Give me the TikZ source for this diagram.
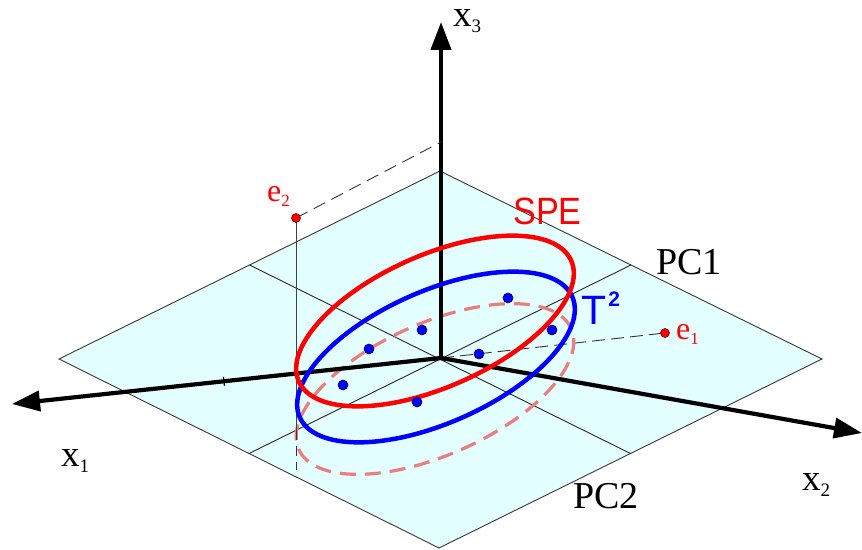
\documentclass[tikz,border=0pt]{standalone}
\usepackage{fontspec}
\usepackage{graphicx}
\setmainfont{Liberation Serif}
\newfontfamily\sansf{Liberation Sans}
\usetikzlibrary{arrows.meta,calc}
\definecolor{planecol}{RGB}{228,255,255}
\definecolor{pinkd}{RGB}{234,125,125}
\definecolor{edgegray}{RGB}{55,55,55}
\newcommand{\axsub}[1]{\raisebox{-6pt}{\fontsize{19}{19}\selectfont #1}}
\newcommand{\esub}[1]{\raisebox{-5pt}{\fontsize{17}{17}\selectfont #1}}
\begin{document}
\begin{tikzpicture}[x=1pt,y=1pt,
  planeedge/.style={draw=edgegray, line width=0.9pt, line join=miter},
  midline/.style={draw=black!85, line width=0.9pt},
  axisline/.style={line width=4.2pt, -{Triangle[length=28pt,width=20pt]}},
  ell/.style={line width=4.5pt},
  thindash/.style={draw=black!80, line width=0.9pt, dash pattern=on 13pt off 7pt},
  datapt/.style={circle, fill=blue, draw=blue!35!black, line width=0.6pt, inner sep=0pt, minimum size=10pt},
  errpt/.style={circle, fill=red, draw=red!35!black, line width=0.6pt, inner sep=0pt, minimum size=9pt},
  axlab/.style={anchor=base west, inner sep=0pt, font=\fontsize{37}{37}\selectfont},
  pclab/.style={anchor=base west, inner sep=0pt, font=\fontsize{38}{38}\selectfont},
  elab/.style={anchor=base west, inner sep=0pt, text=red, font=\fontsize{32}{32}\selectfont},
  sanslab/.style={anchor=base west, inner sep=0pt},
]
\useasboundingbox (0,0) rectangle (862,549);
% plane
\coordinate (O) at (441,191);
\coordinate (L) at (59,190);
\coordinate (R) at (822,190);
\coordinate (T) at (440,378);
\coordinate (B) at (439,1);
\fill[planecol] (L) -- (T) -- (R) -- (B) -- cycle;
\draw[planeedge] (L) -- (T) -- (R) -- (B) -- cycle;
\coordinate (pc1a) at ($(L)!0.5!(B)$);
\coordinate (pc1b) at ($(T)!0.5!(R)$);
\coordinate (pc2a) at ($(L)!0.5!(T)$);
\coordinate (pc2b) at ($(B)!0.5!(R)$);
\draw[midline] (pc1a) -- (pc1b);
\draw[midline] (pc2a) -- (pc2b);
% points e1, e2
\coordinate (e1) at (665,216);
\coordinate (e2) at (296,331);
\coordinate (e2cross) at (296,119);
\coordinate (e2foot) at (296,79);
\coordinate (e2z) at (441,407);
\draw[thindash, dash pattern=on 13pt off 6pt] (O) -- (e1);
% projected (dashed) ellipse
\coordinate (cP) at (435,160);
\draw[pinkd, line width=3.2pt, dash pattern=on 16pt off 9pt, rotate around={23.9:(cP)}] (cP) ellipse [x radius=149pt, y radius=66pt];
% axes
\coordinate (X1) at (12,145);
\coordinate (X2) at (862,116);
\coordinate (X3) at (441,527);
\draw[axisline] (O) -- (X1);
\draw[axisline] (O) -- (X2);
\draw[axisline] (O) -- (X3);
\coordinate (tk) at ($(O)!0.506!(X1)$);
\draw[line width=1.2pt] ($(tk)!4.5pt!90:(X1)$) -- ($(tk)!4.5pt!-90:(X1)$);
% e2 projection lines
\draw[draw=black!75, line width=0.9pt] (e2) -- (e2cross);
\draw[thindash, dash pattern=on 10pt off 6pt] (e2cross) -- (e2foot);
\draw[thindash] (e2) -- (e2z);
% T2 and SPE ellipses
\coordinate (cB) at (436,192);
\coordinate (cR) at (435,228);
\draw[ell, blue, rotate around={23.9:(cB)}] (cB) ellipse [x radius=149pt, y radius=66pt];
\draw[ell, red, rotate around={23.9:(cR)}] (cR) ellipse [x radius=149pt, y radius=66pt];
% data points
\node[datapt] (d1) at (508,251) {};
\node[datapt] (d2) at (422,219) {};
\node[datapt] (d3) at (369,200) {};
\node[datapt] (d4) at (552,219) {};
\node[datapt] (d5) at (479,195) {};
\node[datapt] (d6) at (343,164) {};
\node[datapt] (d7) at (417,147) {};
\node[errpt] (pe1) at (e1) {};
\node[errpt] (pe2) at (e2) {};
% labels
\node[axlab] (lx3) at (453,522) {x\axsub{3}};
\node[axlab] (lx1) at (61,82) {x\axsub{1}};
\node[axlab] (lx2) at (802,59) {x\axsub{2}};
\node[pclab] (lpc1) at (656,274) {PC1};
\node[pclab] (lpc2) at (573,41) {PC2};
\node[elab] (le1) at (676,209) {e\esub{1}};
\node[elab] (le2) at (267,347) {e\esub{2}};
\node[sanslab, text=red] (lspe) at (513,324) {\scalebox{0.9}[1]{\sansf\fontsize{38}{38}\selectfont SPE}};
\node[sanslab, text=blue] (lt2) at (581,224) {\sansf\fontsize{41}{41}\selectfont T\hspace{2pt}\raisebox{18pt}{\fontsize{21}{21}\selectfont\bfseries 2}};
\end{tikzpicture}
\end{document}
